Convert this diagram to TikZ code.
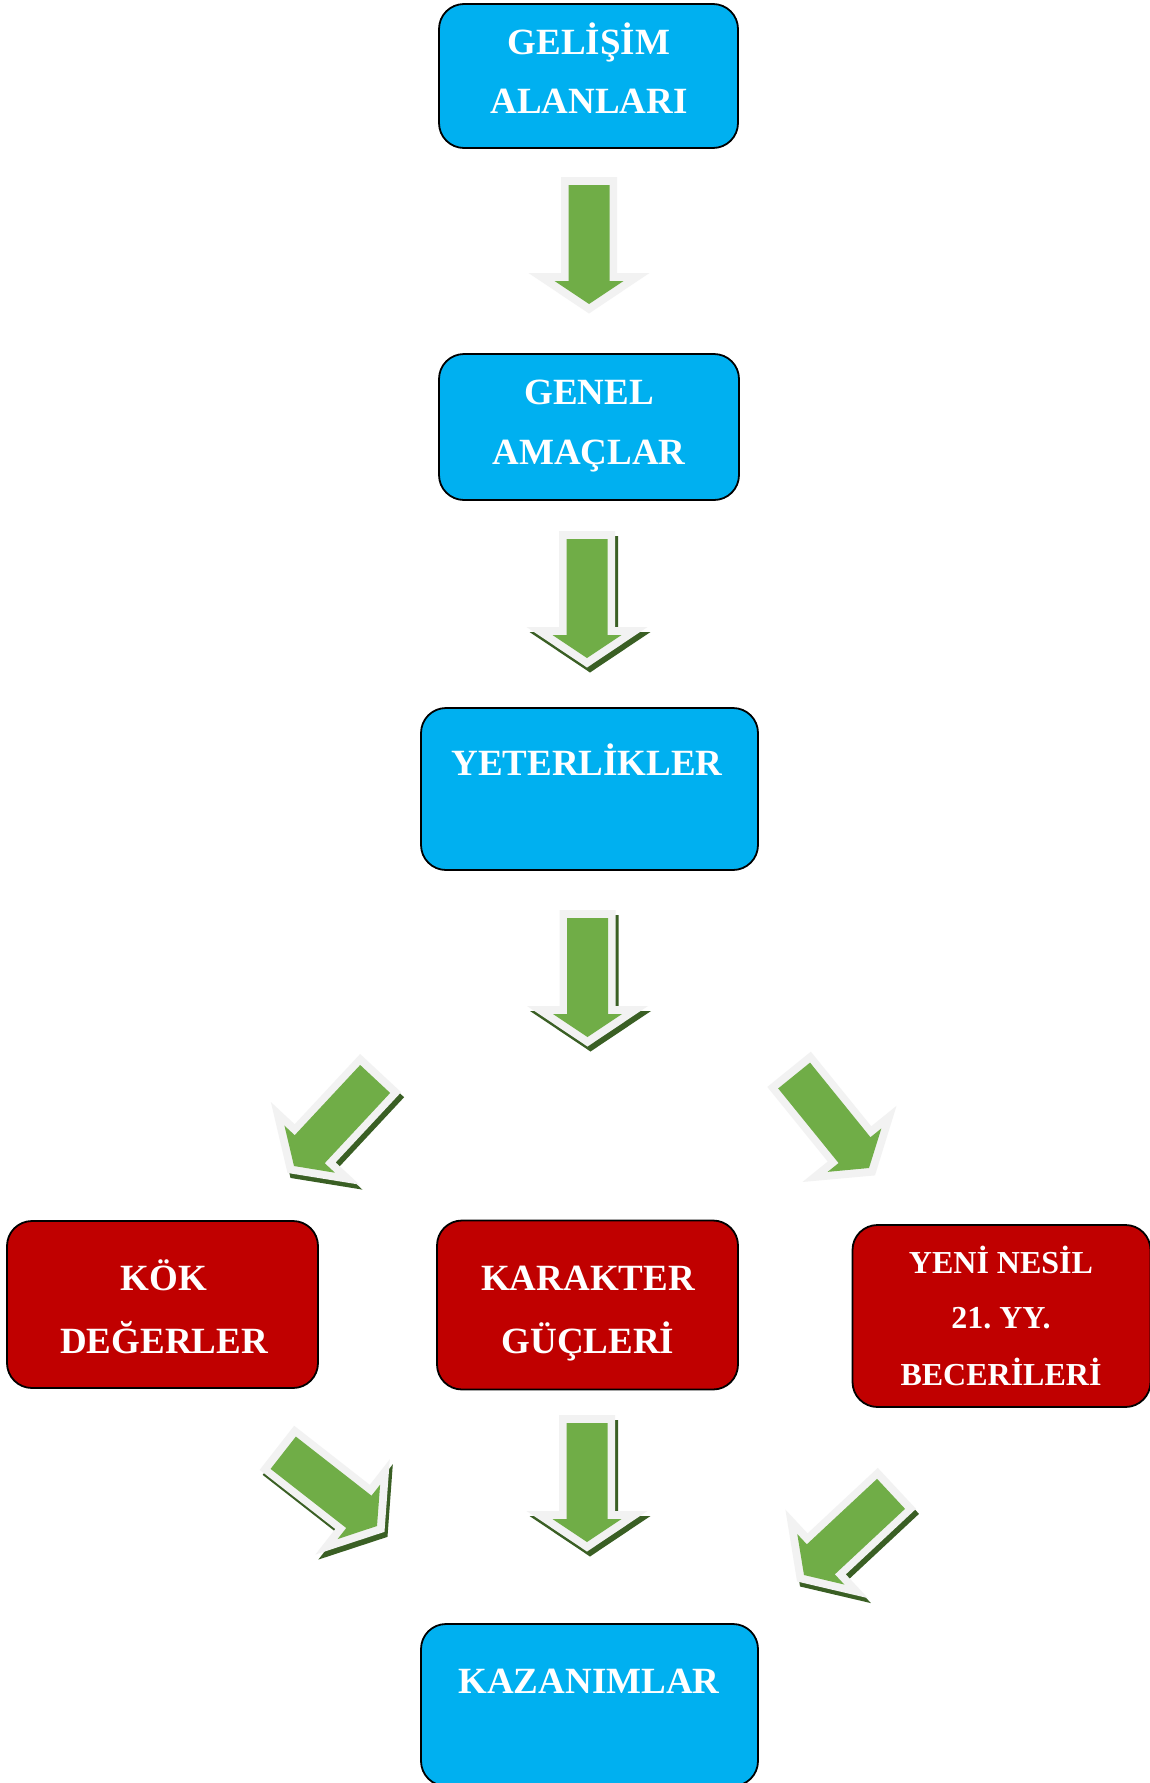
\documentclass[tikz,border=0pt]{standalone}
\usepackage{fontspec}
\setmainfont{Liberation Serif}
\definecolor{cblue}{HTML}{00B0F0}
\definecolor{cred}{HTML}{C00000}
\definecolor{cgreen}{HTML}{70AD47}
\definecolor{cglow}{HTML}{F2F2F2}
\definecolor{cshade}{HTML}{3A5F24}
\tikzset{
  bluebox/.style={draw=black, line width=1.8pt, fill=cblue, rounded corners=25pt, inner sep=0pt},
  redbox/.style={draw=black, line width=1.8pt, fill=cred, rounded corners=25pt, inner sep=0pt},
  txt/.style={text=white, font=\fontsize{37}{40}\selectfont\bfseries, inner sep=0pt, anchor=base},
  smalltxt/.style={text=white, font=\fontsize{32}{36}\selectfont\bfseries, inner sep=0pt, anchor=base},
}
\newcommand{\blkarrow}[4]{%
  \ifnum#4=1
  \begin{scope}[shift={(#1+3,#2+5)},rotate=#3]
    \fill[cshade] (-28,-127) -- (28,-127) -- (28,-31) -- (60.5,-31) -- (0,9.5) -- (-60.5,-31) -- (-28,-31) -- cycle;
  \end{scope}
  \fi
  \begin{scope}[shift={(#1,#2)},rotate=#3]
    \fill[cglow] (-28,-127) -- (28,-127) -- (28,-31) -- (60.5,-31) -- (0,9.5) -- (-60.5,-31) -- (-28,-31) -- cycle;
    \fill[cgreen] (-20.5,-119) -- (20.5,-119) -- (20.5,-23) -- (34.5,-23) -- (0,0) -- (-34.5,-23) -- (-20.5,-23) -- cycle;
  \end{scope}}
\begin{document}
\frenchspacing
\begin{tikzpicture}[x=1pt,y=-1pt]
\useasboundingbox (0,0) rectangle (1150,1783);
\fill[white] (0,0) rectangle (1150,1783);

% boxes
\node[bluebox, minimum width=299pt, minimum height=144pt] (gel) at (588.5,76) {};
\node[bluebox, minimum width=300pt, minimum height=146pt] (gen) at (589,427) {};
\node[bluebox, minimum width=337pt, minimum height=162pt] (yet) at (589.5,789) {};
\node[redbox, minimum width=311pt, minimum height=167pt] (kok) at (162.5,1304.5) {};
\node[redbox, minimum width=301pt, minimum height=169pt] (kar) at (587.5,1305) {};
\node[redbox, minimum width=298pt, minimum height=182pt] (yeni) at (1001.5,1316) {};
\node[bluebox, minimum width=337pt, minimum height=162pt] (kaz) at (589.5,1705) {};

% texts
\node[txt] (gel1) at (589,54) {GELİŞİM};
\node[txt] (gel2) at (589,113) {ALANLARI};
\node[txt] (gen1) at (589,404.5) {GENEL};
\node[txt] (gen2) at (589,464) {AMAÇLAR};
\node[txt] (yet1) at (587,775.5) {YETERLİKLER};
\node[txt] (kok1) at (164,1290) {KÖK};
\node[txt] (kok2) at (164,1353) {DEĞERLER};
\node[txt] (kar1) at (588,1290) {KARAKTER};
\node[txt] (kar2) at (588,1353) {GÜÇLERİ};
\node[smalltxt] (yeni1) at (1001,1273) {YENİ NESİL};
\node[smalltxt] (yeni2) at (1001,1328) {21. YY.};
\node[smalltxt] (yeni3) at (1001,1385) {BECERİLERİ};
\node[txt] (kaz1) at (589,1693) {KAZANIMLAR};

% block arrows
\blkarrow{589}{304}{0}{0}
\blkarrow{587}{658}{0}{1}
\blkarrow{587.5}{1037}{0}{1}
\blkarrow{294}{1166}{-43}{1}
\blkarrow{869}{1168}{39}{0}
\blkarrow{587}{1542}{0}{1}
\blkarrow{377}{1526}{52}{1}
\blkarrow{804}{1575}{-47}{1}
\end{tikzpicture}
\end{document}
